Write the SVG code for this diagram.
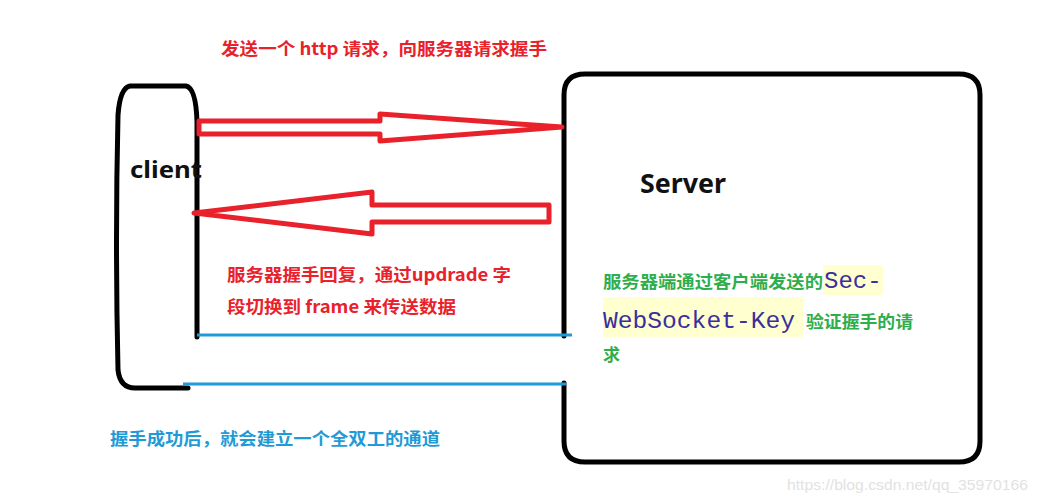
<svg xmlns="http://www.w3.org/2000/svg" width="1039" height="503" viewBox="0 0 1039 503">
  <style>
    .outline { fill: none; stroke: #000; stroke-width: 5; stroke-linecap: round; stroke-linejoin: round; }
    .red-arrow { fill: none; stroke: #e8212b; stroke-width: 5; stroke-linejoin: round; }
    .blue-line { stroke: #1e9bd7; stroke-width: 3; }
    .title { font-family: "Noto Sans", "Liberation Sans", sans-serif; font-weight: bold; fill: #111; }
    .red-t { font-family: "Noto Sans CJK SC", "Liberation Sans", sans-serif; font-weight: bold; font-size: 17px; fill: #e8212b; }
    .green-t { font-family: "Noto Sans CJK SC", "Liberation Sans", sans-serif; font-weight: bold; font-size: 17px; fill: #2eae4c; }
    .blue-t { font-family: "Noto Sans CJK SC", "Liberation Sans", sans-serif; font-weight: bold; font-size: 17px; fill: #1e9bd7; }
    .mono { font-family: "Liberation Mono", monospace; font-size: 24px; fill: #3a2f9e; }
    .hl { fill: #ffffd0; }
    .wm { font-family: "Liberation Sans", Arial, sans-serif; font-size: 15px; fill: #e2e2e2; }
  </style>

  <rect width="1039" height="503" fill="#fff"/>

  <g id="client">
    <path class="outline" d="M197,337 L197,122 Q196,88 186,86 L130,86 Q120,88 118,115 Q115,240 118,370 Q120,388 135,388 L188,388"/>
    <text class="title" x="130" y="178" font-size="24" textLength="72" lengthAdjust="spacingAndGlyphs">client</text>
  </g>

  <g id="server">
    <path class="outline" d="M564,336 L564,95 Q564,74 585,74 L959,74 Q980,74 980,95 L980,441 Q980,462 959,462 L585,462 Q564,462 564,441 L564,383"/>
    <text class="title" x="640" y="193" font-size="26" textLength="86" lengthAdjust="spacingAndGlyphs">Server</text>
  </g>

  <g id="connectors">
    <polygon class="red-arrow" points="199,121 380,121 380,114 562,127 380,141 380,134 199,134"/>
    <polygon class="red-arrow" points="194,213 372,192 372,205 549,205 549,222 372,222 372,234"/>
    <line class="blue-line" x1="197" y1="335" x2="572" y2="335"/>
    <line class="blue-line" x1="183" y1="384" x2="566" y2="384"/>
  </g>

  <g id="labels">
    <text class="red-t" x="221" y="55" textLength="326" lengthAdjust="spacingAndGlyphs">发送一个 http 请求，向服务器请求握手</text>
    <text class="red-t" x="227" y="281" textLength="284" lengthAdjust="spacingAndGlyphs">服务器握手回复，通过updrade 字</text>
    <text class="red-t" x="227" y="313" textLength="229" lengthAdjust="spacingAndGlyphs">段切换到 frame 来传送数据</text>

    <rect class="hl" x="823" y="265" width="60" height="30"/>
    <rect class="hl" x="603" y="297" width="200" height="40"/>
    <text class="green-t" x="603" y="288" textLength="220" lengthAdjust="spacingAndGlyphs">服务器端通过客户端发送的</text>
    <text class="mono" x="824" y="288">Sec-</text>
    <text class="mono" x="603" y="328" textLength="192" lengthAdjust="spacingAndGlyphs">WebSocket-Key</text>
    <text class="green-t" x="806" y="328" textLength="107" lengthAdjust="spacingAndGlyphs">验证握手的请</text>
    <text class="green-t" x="603" y="361">求</text>

    <text class="blue-t" x="110" y="445" textLength="330" lengthAdjust="spacingAndGlyphs">握手成功后，就会建立一个全双工的通道</text>

    <text class="wm" x="787" y="490" textLength="241" lengthAdjust="spacingAndGlyphs">https://blog.csdn.net/qq_35970166</text>
  </g>
</svg>
